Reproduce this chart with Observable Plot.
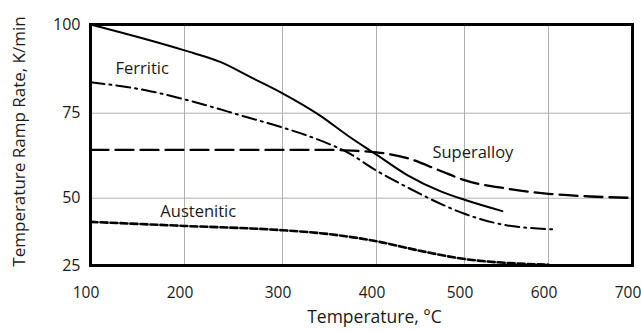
<!DOCTYPE html>
<html>
<head>
<meta charset="utf-8">
<script src="https://cdn.jsdelivr.net/npm/d3@7"></script>
<script src="https://cdn.jsdelivr.net/npm/@observablehq/plot@0.6"></script>
<style>
  html, body { margin: 0; padding: 0; background: #fff; }
</style>
</head>
<body>
<div id="chart"></div>
<script>
// Tick values
const xTicks = [100, 200, 300, 400, 500, 600, 700];
const yTicks = [25, 50, 75, 100];

// Solid curve (unlabelled)
const solidX = [100, 200, 237, 270, 300, 340, 370, 400, 435, 473, 500, 545];
const solidY = [100, 92.7, 89.4, 84.8, 80.6, 74.3, 68.3, 62.8, 56.8, 52.0, 49.4, 45.2];

// Ferritic (dash-dot)
const ferriticX = [100, 160, 200, 264, 300, 340, 369, 400, 435, 473, 500, 551, 610];
const ferriticY = [83.7, 81.4, 78.9, 73.8, 70.8, 67.0, 63.5, 58.1, 53.2, 47.9, 44.2, 39.9, 38.4];

// Superalloy (long dash)
const superX = [100, 200, 300, 350, 380, 400, 435, 473, 500, 551, 600, 650, 700];
const superY = [64.2, 64.2, 64.2, 64.2, 63.9, 63.5, 61.8, 58.0, 55.3, 52.8, 51.3, 50.5, 50.1];

// Austenitic (short dash)
const austX = [100, 200, 300, 351, 400, 449, 500, 553, 600];
const austY = [41.2, 39.7, 38.1, 36.6, 34.0, 30.5, 27.4, 25.9, 25.3];

// Series labels
const labelNames = ["Ferritic", "Superalloy", "Austenitic"];
const labelX = [155, 510, 214];
const labelY = [87.5, 63.5, 45.1];

const xTitle = "Temperature, °C";
const yTitle = "Temperature Ramp Rate, K/min";

const toRows = (xs, ys) => xs.map((x, i) => ({x, y: ys[i]}));
const labels = labelNames.map((name, i) => ({name, x: labelX[i], y: labelY[i]}));

const chart = Plot.plot({
  width: 641,
  height: 332,
  marginLeft: 90,
  marginRight: 9,
  marginTop: 24,
  marginBottom: 67,
  style: {fontFamily: "'Open Sans', sans-serif", fontSize: "16px", color: "#1a1a1a", background: "#fff"},
  x: {type: "linear", domain: xTicks, range: [90, 184, 282, 376, 464, 548, 632], label: null},
  y: {type: "linear", domain: yTicks, range: [265, 197.7, 112.7, 24], label: null},
  marks: [
    Plot.ruleX(xTicks, {stroke: "#b0b0b0", strokeWidth: 1}),
    Plot.ruleY(yTicks, {stroke: "#b0b0b0", strokeWidth: 1}),
    Plot.axisX(xTicks, {tickSize: 0, tickPadding: 21, dx: -4.5, fontSize: 15.5, label: null}),
    Plot.axisY(yTicks, {tickSize: 0, tickPadding: 10, fontSize: 16, label: null}),
    Plot.line(toRows(austX, austY), {x: "x", y: "y", stroke: "#000", strokeWidth: 2.6, strokeDasharray: "7,3", curve: "monotone-x"}),
    Plot.line(toRows(superX, superY), {x: "x", y: "y", stroke: "#000", strokeWidth: 2.3, strokeDasharray: "18,7", curve: "monotone-x"}),
    Plot.line(toRows(ferriticX, ferriticY), {x: "x", y: "y", stroke: "#000", strokeWidth: 2, strokeDasharray: "14,5,2,5", curve: "monotone-x"}),
    Plot.line(toRows(solidX, solidY), {x: "x", y: "y", stroke: "#000", strokeWidth: 2, curve: "monotone-x"}),
    Plot.text(labels, {x: "x", y: "y", text: "name", fontSize: 16.5, fill: "#1a1a1a"}),
    Plot.frame({stroke: "#000", strokeWidth: 3}),
    Plot.text([xTitle], {frameAnchor: "bottom", dx: 13, dy: 57, fontSize: 17.5, fill: "#1a1a1a"}),
    Plot.text([yTitle], {frameAnchor: "left", textAnchor: "middle", rotate: -90, dx: -70.5, dy: -3.5, fontSize: 17, fill: "#1a1a1a"})
  ]
});
document.getElementById("chart").appendChild(chart);
</script>
</body>
</html>
